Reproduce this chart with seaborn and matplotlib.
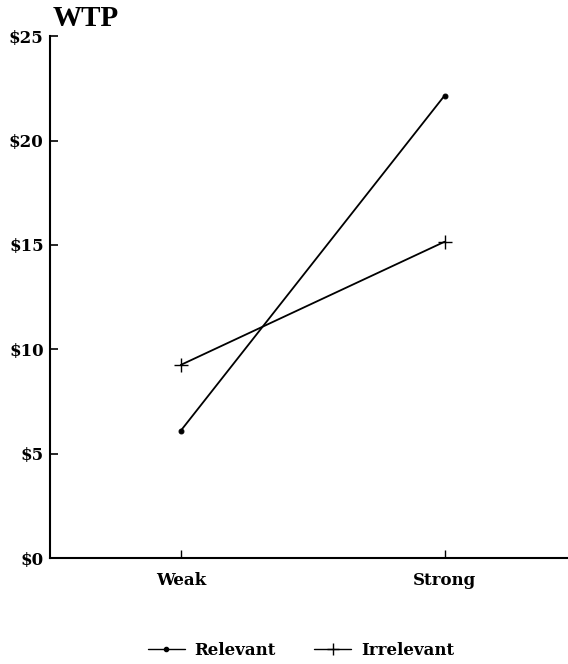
import matplotlib
matplotlib.use("Agg")
import matplotlib.pyplot as plt
import seaborn as sns
import pandas as pd
from matplotlib.lines import Line2D

categories = ["Weak", "Strong"]
relevant = [6.1, 22.15]
irrelevant = [9.25, 15.15]
series_names = ["Relevant", "Irrelevant"]
ytick_vals = [0, 5, 10, 15, 20, 25]
ytick_labels = ["$0", "$5", "$10", "$15", "$20", "$25"]

sns.set_theme(style="ticks")
plt.rcParams["font.family"] = ["DejaVu Serif"]
plt.rcParams["font.weight"] = "bold"
plt.rcParams["text.color"] = "black"
plt.rcParams["axes.labelcolor"] = "black"
plt.rcParams["xtick.color"] = "black"
plt.rcParams["ytick.color"] = "black"

df_rel = pd.DataFrame({"cond": categories, "wtp": relevant})
df_irr = pd.DataFrame({"cond": categories, "wtp": irrelevant})

fig = plt.figure(figsize=(5.68, 6.64), dpi=100)
ax = fig.add_axes([0.088, 0.1596, 0.911, 0.786])

sns.lineplot(data=df_rel, x="cond", y="wtp", color="black", marker="o",
             markersize=3.5, mec="black", mfc="black", linewidth=1.3,
             sort=False, ax=ax)
sns.lineplot(data=df_irr, x="cond", y="wtp", color="black", marker="+",
             markersize=10, mec="black", markeredgewidth=1.0, linewidth=1.3,
             sort=False, ax=ax)

ax.set_xlim(-0.496, 1.466)
ax.set_ylim(0, 25)
ax.set_yticks(ytick_vals)
ax.set_yticklabels(ytick_labels, fontsize=12, fontweight="bold", color="black")
ax.set_xticks([0, 1])
ax.set_xticklabels(categories, fontsize=12, fontweight="bold", color="black")
ax.set_xlabel("")
ax.set_ylabel("")
sns.despine(ax=ax)
for s in ["left", "bottom"]:
    ax.spines[s].set_linewidth(1.5)
    ax.spines[s].set_color("black")
ax.tick_params(axis="y", direction="in", length=6, width=1.2, pad=4.5, colors="black")
ax.tick_params(axis="x", direction="in", length=6, width=1.0, pad=10, colors="black")

fig.text(0.093, 0.972, "WTP", fontsize=21, fontweight="bold", va="center",
         ha="left", color="black", family="Liberation Serif")

handles = [Line2D([], [], color="black", marker="o", markersize=3, linewidth=1.0),
           Line2D([], [], color="black", marker="+", markersize=9, linewidth=1.0)]
fig.legend(handles, series_names, loc="center",
           bbox_to_anchor=(0.53, 0.021),
           ncol=2, frameon=False, handlelength=2.2,
           handletextpad=0.6, columnspacing=2.3, labelcolor="black",
           prop={"weight": "bold", "size": 12, "family": "DejaVu Serif"})

fig.savefig("out.png", dpi=100)
